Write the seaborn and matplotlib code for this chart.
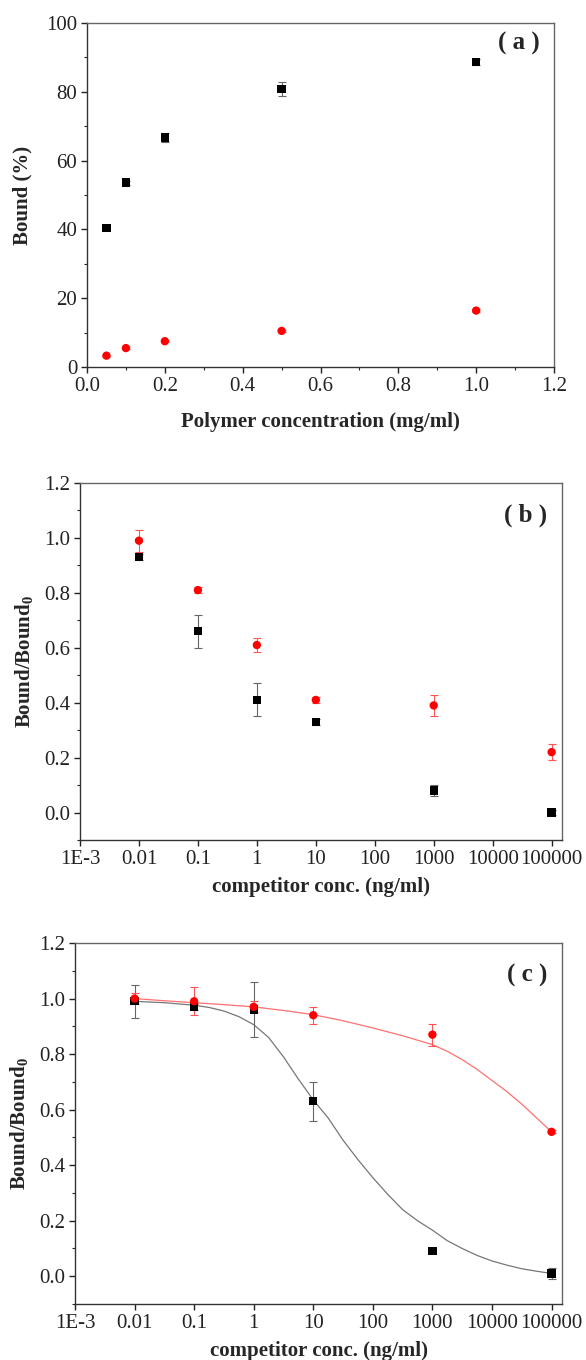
import matplotlib
matplotlib.use("Agg")
import matplotlib.pyplot as plt
import matplotlib.ticker as mticker
import numpy as np
import pandas as pd
import seaborn as sns

# panel (a): binding vs polymer concentration
polymer_conc = [0.05, 0.1, 0.2, 0.5, 1.0]
bound_mip = [40.4, 53.6, 66.7, 80.9, 88.7]
bound_mip_err = [0.6, 0.6, 1.2, 2.0, 0.8]
bound_nip = [3.3, 5.5, 7.5, 10.5, 16.4]
bound_nip_err = [0.3, 0.3, 0.3, 0.4, 0.4]

# panel (b) and (c): competitor concentrations (ng/ml)
competitor_conc = [0.01, 0.1, 1, 10, 1000, 100000]

b_black = [0.93, 0.66, 0.41, 0.33, 0.08, 0.00]
b_black_err = [0.01, 0.06, 0.06, 0.012, 0.02, 0.01]
b_red = [0.99, 0.81, 0.61, 0.41, 0.39, 0.22]
b_red_err = [0.04, 0.01, 0.025, 0.01, 0.037, 0.03]

c_black = [0.99, 0.97, 0.96, 0.63, 0.09, 0.01]
c_black_err = [0.06, 0.01, 0.10, 0.07, 0.0, 0.02]
c_red = [1.00, 0.99, 0.97, 0.94, 0.87, 0.52]
c_red_err = [0.02, 0.05, 0.02, 0.03, 0.04, 0.005]

# fitted curves in panel (c) (log10 of conc., value)
fit_black_logx = [-2, -1.5, -1, -0.75, -0.5, -0.25, 0, 0.25, 0.5, 0.75, 1.0, 1.25, 1.5,
                  1.75, 2.0, 2.25, 2.5, 2.75, 3.0, 3.25, 3.5, 3.75, 4.0, 4.25, 4.5, 4.75, 5.0]
fit_black_y = [0.99, 0.985, 0.976, 0.968, 0.955, 0.935, 0.906, 0.86, 0.79, 0.71, 0.635, 0.57,
               0.49, 0.42, 0.355, 0.295, 0.24, 0.2, 0.166, 0.128, 0.1, 0.075, 0.055, 0.04,
               0.027, 0.018, 0.01]
fit_red_logx = [-2, -1.5, -1, -0.5, 0, 0.5, 1, 1.5, 2, 2.5, 3, 3.25, 3.5, 3.75, 4, 4.25,
                4.5, 4.75, 5]
fit_red_y = [1.0, 0.992, 0.985, 0.978, 0.97, 0.957, 0.942, 0.92, 0.894, 0.866, 0.834, 0.81,
             0.78, 0.745, 0.705, 0.665, 0.62, 0.57, 0.52]

log_ticks = [1e-3, 1e-2, 1e-1, 1, 10, 100, 1000, 1e4, 1e5]
log_tick_labels = ["1E-3", "0.01", "0.1", "1", "10", "100", "1000", "10000", "100000"]

sns.set_style("ticks")
plt.rcParams["font.family"] = ["Liberation Serif", "DejaVu Serif"]
plt.rcParams["mathtext.fontset"] = "custom"
plt.rcParams["mathtext.rm"] = "Liberation Serif:bold"
plt.rcParams["mathtext.bf"] = "Liberation Serif:bold"
plt.rcParams["axes.edgecolor"] = "#333333"
plt.rcParams["axes.linewidth"] = 1.0

W, H = 586, 1360
fig = plt.figure(figsize=(W / 100, H / 100), dpi=100)


def make_axes(left, right, top, bottom):
    return fig.add_axes([left / W, 1 - bottom / H, (right - left) / W, (bottom - top) / H])


def style_axes(ax):
    ax.tick_params(axis="both", which="major", direction="out", length=4, width=1,
                   labelsize=15, pad=3, colors="#222222")
    ax.tick_params(axis="both", which="minor", direction="out", length=2.5, width=0.8)
    ax.tick_params(top=False, right=False, which="both")
    for s in ["top", "right"]:
        ax.spines[s].set_color("#666666")


def draw_pair(ax, x, yb, eb, yr, er):
    ax.errorbar(x, yb, yerr=eb, fmt="none", ecolor="#666666", elinewidth=0.8,
                capsize=3, capthick=0.8, zorder=2)
    ax.errorbar(x, yr, yerr=er, fmt="none", ecolor="#ff5555", elinewidth=0.8,
                capsize=3, capthick=0.8, zorder=2)
    df = pd.DataFrame({"x": list(x) * 2, "y": list(yb) + list(yr),
                       "series": ["black"] * len(x) + ["red"] * len(x)})
    sns.scatterplot(data=df, x="x", y="y", hue="series", style="series",
                    palette={"black": "#000000", "red": "#ff0000"},
                    markers={"black": "s", "red": "o"}, s=36, linewidth=0,
                    legend=False, ax=ax, zorder=3)


# ---------- (a) ----------
ax_a = make_axes(87, 554, 23, 367)
draw_pair(ax_a, polymer_conc, bound_mip, bound_mip_err, bound_nip, bound_nip_err)
ax_a.set_xlim(0, 1.2)
ax_a.set_ylim(0, 100)
ax_a.xaxis.set_major_locator(mticker.MultipleLocator(0.2))
ax_a.xaxis.set_minor_locator(mticker.MultipleLocator(0.1))
ax_a.yaxis.set_major_locator(mticker.MultipleLocator(20))
ax_a.yaxis.set_minor_locator(mticker.MultipleLocator(10))
ax_a.xaxis.set_major_formatter(mticker.FormatStrFormatter("%.1f"))
style_axes(ax_a)
ax_a.set_xlabel("Polymer concentration (mg/ml)", fontsize=15, fontweight="bold", labelpad=12)
ax_a.set_ylabel("Bound (%)", fontsize=15, fontweight="bold", labelpad=10)
ax_a.text(0.97, 0.94, "( a )", transform=ax_a.transAxes, ha="right", va="center",
          fontsize=18, fontweight="bold")


def log_axis(ax):
    ax.set_xscale("log")
    ax.set_xlim(1e-3, 1.5e5)
    ax.set_ylim(-0.1, 1.2)
    ax.xaxis.set_major_locator(mticker.FixedLocator(log_ticks))
    ax.xaxis.set_major_formatter(mticker.FixedFormatter(log_tick_labels))
    ax.xaxis.set_minor_locator(mticker.LogLocator(base=10, subs=np.arange(2, 10)))
    ax.xaxis.set_minor_formatter(mticker.NullFormatter())
    ax.yaxis.set_major_locator(mticker.FixedLocator([0, 0.2, 0.4, 0.6, 0.8, 1.0, 1.2]))
    ax.yaxis.set_minor_locator(mticker.MultipleLocator(0.1))
    ax.yaxis.set_major_formatter(mticker.FormatStrFormatter("%.1f"))
    style_axes(ax)
    ax.set_xlabel("competitor conc. (ng/ml)", fontsize=15, fontweight="bold", labelpad=6)
    ax.set_ylabel("Bound/Bound$_0$", fontsize=15, fontweight="bold", labelpad=6)


# ---------- (b) ----------
ax_b = make_axes(80, 562, 483, 840)
draw_pair(ax_b, competitor_conc, b_black, b_black_err, b_red, b_red_err)
log_axis(ax_b)
ax_b.text(0.97, 0.91, "( b )", transform=ax_b.transAxes, ha="right", va="center",
          fontsize=18, fontweight="bold")

# ---------- (c) ----------
ax_c = make_axes(75, 562, 943, 1304)
fit_black = pd.DataFrame({"conc": np.power(10.0, fit_black_logx), "value": fit_black_y})
fit_red = pd.DataFrame({"conc": np.power(10.0, fit_red_logx), "value": fit_red_y})
sns.lineplot(data=fit_black, x="conc", y="value", color="#777777", linewidth=0.9,
             ax=ax_c, zorder=1)
sns.lineplot(data=fit_red, x="conc", y="value", color="#ff7070", linewidth=0.9,
             ax=ax_c, zorder=1)
draw_pair(ax_c, competitor_conc, c_black, c_black_err, c_red, c_red_err)
log_axis(ax_c)
ax_c.text(0.97, 0.91, "( c )", transform=ax_c.transAxes, ha="right", va="center",
          fontsize=18, fontweight="bold")

fig.savefig("out.png", dpi=100)
